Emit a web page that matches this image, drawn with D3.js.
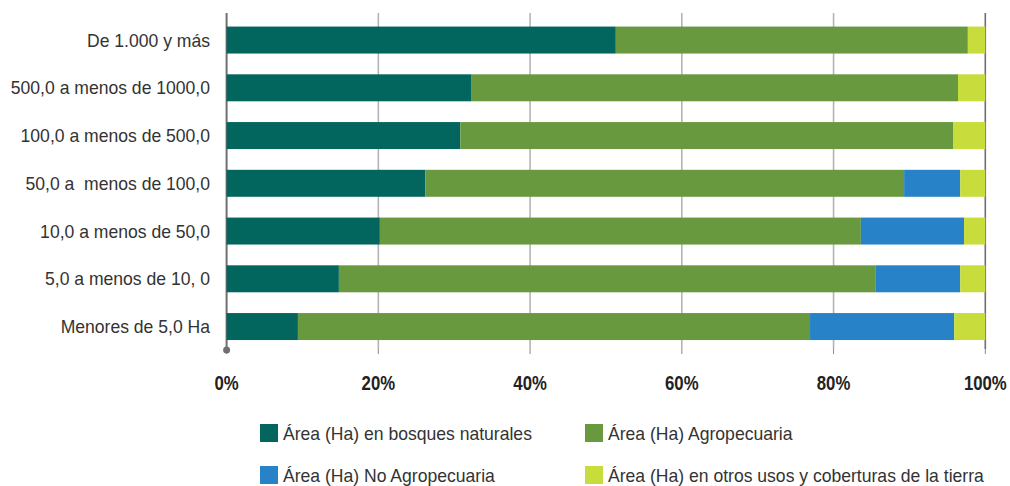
<!DOCTYPE html>
<html>
<head>
<meta charset="utf-8">
<script src="https://cdn.jsdelivr.net/npm/d3@7"></script>
<style>
  body { margin: 0; background: #fff; }
  text { font-family: "Liberation Sans", Arial, sans-serif; white-space: pre; }
</style>
</head>
<body>
<script>
// categories (top to bottom)
const categories = [
  "De 1.000 y más",
  "500,0 a menos de 1000,0",
  "100,0 a menos de 500,0",
  "50,0 a  menos de 100,0",
  "10,0 a menos de 50,0",
  "5,0 a menos de 10, 0",
  "Menores de 5,0 Ha"
];
// share of area (%) per series
const bosques = [51.3, 32.3, 30.8, 26.2, 20.2, 14.8, 9.4];
const agro = [46.4, 64.1, 65.0, 63.1, 63.4, 70.7, 67.5];
const noAgro = [0, 0, 0, 7.4, 13.6, 11.2, 19.0];
const otros = [2.3, 3.6, 4.2, 3.3, 2.8, 3.3, 4.1];

const seriesNames = [
  "Área (Ha) en bosques naturales",
  "Área (Ha) Agropecuaria",
  "Área (Ha) No Agropecuaria",
  "Área (Ha) en otros usos y coberturas de la tierra"
];
const ticks = [0, 20, 40, 60, 80, 100];
const colors = ["#02665e", "#68993f", "#2782c7", "#c8dc3c"];

const width = 1010, height = 486;
const narrow = 0.945;   // condensed look of the original font
const svg = d3.select("body").append("svg").attr("width", width).attr("height", height);

const keys = ["bosques", "agro", "noAgro", "otros"];
const rows = categories.map((c, i) => ({
  cat: c, bosques: bosques[i], agro: agro[i], noAgro: noAgro[i], otros: otros[i]
}));
const stacked = d3.stack().keys(keys)(rows);

const x = d3.scaleLinear().domain([0, 100]).range([226.6, 985.3]);
const y = d3.scaleBand().domain(categories).range([16.2, 350.4])
  .paddingInner(0.435).paddingOuter(0.217);

// gridlines
const gridTop = 13, gridBottom = 349;
svg.append("g").selectAll("line")
  .data(ticks)
  .join("line")
  .attr("x1", d => x(d)).attr("x2", d => x(d))
  .attr("y1", gridTop).attr("y2", gridBottom)
  .attr("stroke", d => (d === 0 || d === 100) ? "#6f6f6f" : "#b4b4b4")
  .attr("stroke-width", d => d === 0 ? 2 : 1.6);

// small ticks under the axis
svg.append("g").selectAll("line")
  .data(ticks)
  .join("line")
  .attr("x1", d => x(d)).attr("x2", d => x(d))
  .attr("y1", gridBottom).attr("y2", 354)
  .attr("stroke", "#8a8a8a")
  .attr("stroke-width", 1);

// bars
svg.append("g").selectAll("g")
  .data(stacked)
  .join("g")
  .attr("fill", (d, i) => colors[i])
  .selectAll("rect")
  .data(d => d)
  .join("rect")
  .attr("x", d => x(d[0]))
  .attr("width", d => x(d[1]) - x(d[0]))
  .attr("y", d => y(d.data.cat))
  .attr("height", y.bandwidth());

// axis dot
svg.append("circle").attr("cx", x(0)).attr("cy", gridBottom + 1).attr("r", 3.5).attr("fill", "#6f6f6f");

// category labels
svg.append("g").selectAll("text")
  .data(categories)
  .join("text")
  .attr("transform", d => `translate(210,${y(d) + y.bandwidth() / 2}) scale(${narrow},1)`)
  .attr("dy", "0.35em")
  .attr("text-anchor", "end")
  .attr("font-size", "18.6px")
  .attr("fill", "#333")
  .text(d => d);

// tick labels
svg.append("g").selectAll("text")
  .data(ticks)
  .join("text")
  .attr("transform", d => `translate(${x(d)},390) scale(0.86,1)`)
  .attr("text-anchor", "middle")
  .attr("font-size", "19.5px")
  .attr("font-weight", "bold")
  .attr("fill", "#222")
  .text(d => d + "%");

// legend
const legendPos = [[260, 433], [585, 433], [260, 475], [585, 475]];
const legend = svg.append("g").selectAll("g")
  .data(seriesNames)
  .join("g")
  .attr("transform", (d, i) => `translate(${legendPos[i][0]},${legendPos[i][1]})`);
legend.append("rect")
  .attr("x", 0).attr("y", -9).attr("width", 18).attr("height", 18)
  .attr("fill", (d, i) => colors[i]);
legend.append("text")
  .attr("transform", `translate(23,0) scale(${narrow},1)`)
  .attr("dy", "0.35em")
  .attr("font-size", "18.6px")
  .attr("fill", "#333")
  .text(d => d);
</script>
</body>
</html>
